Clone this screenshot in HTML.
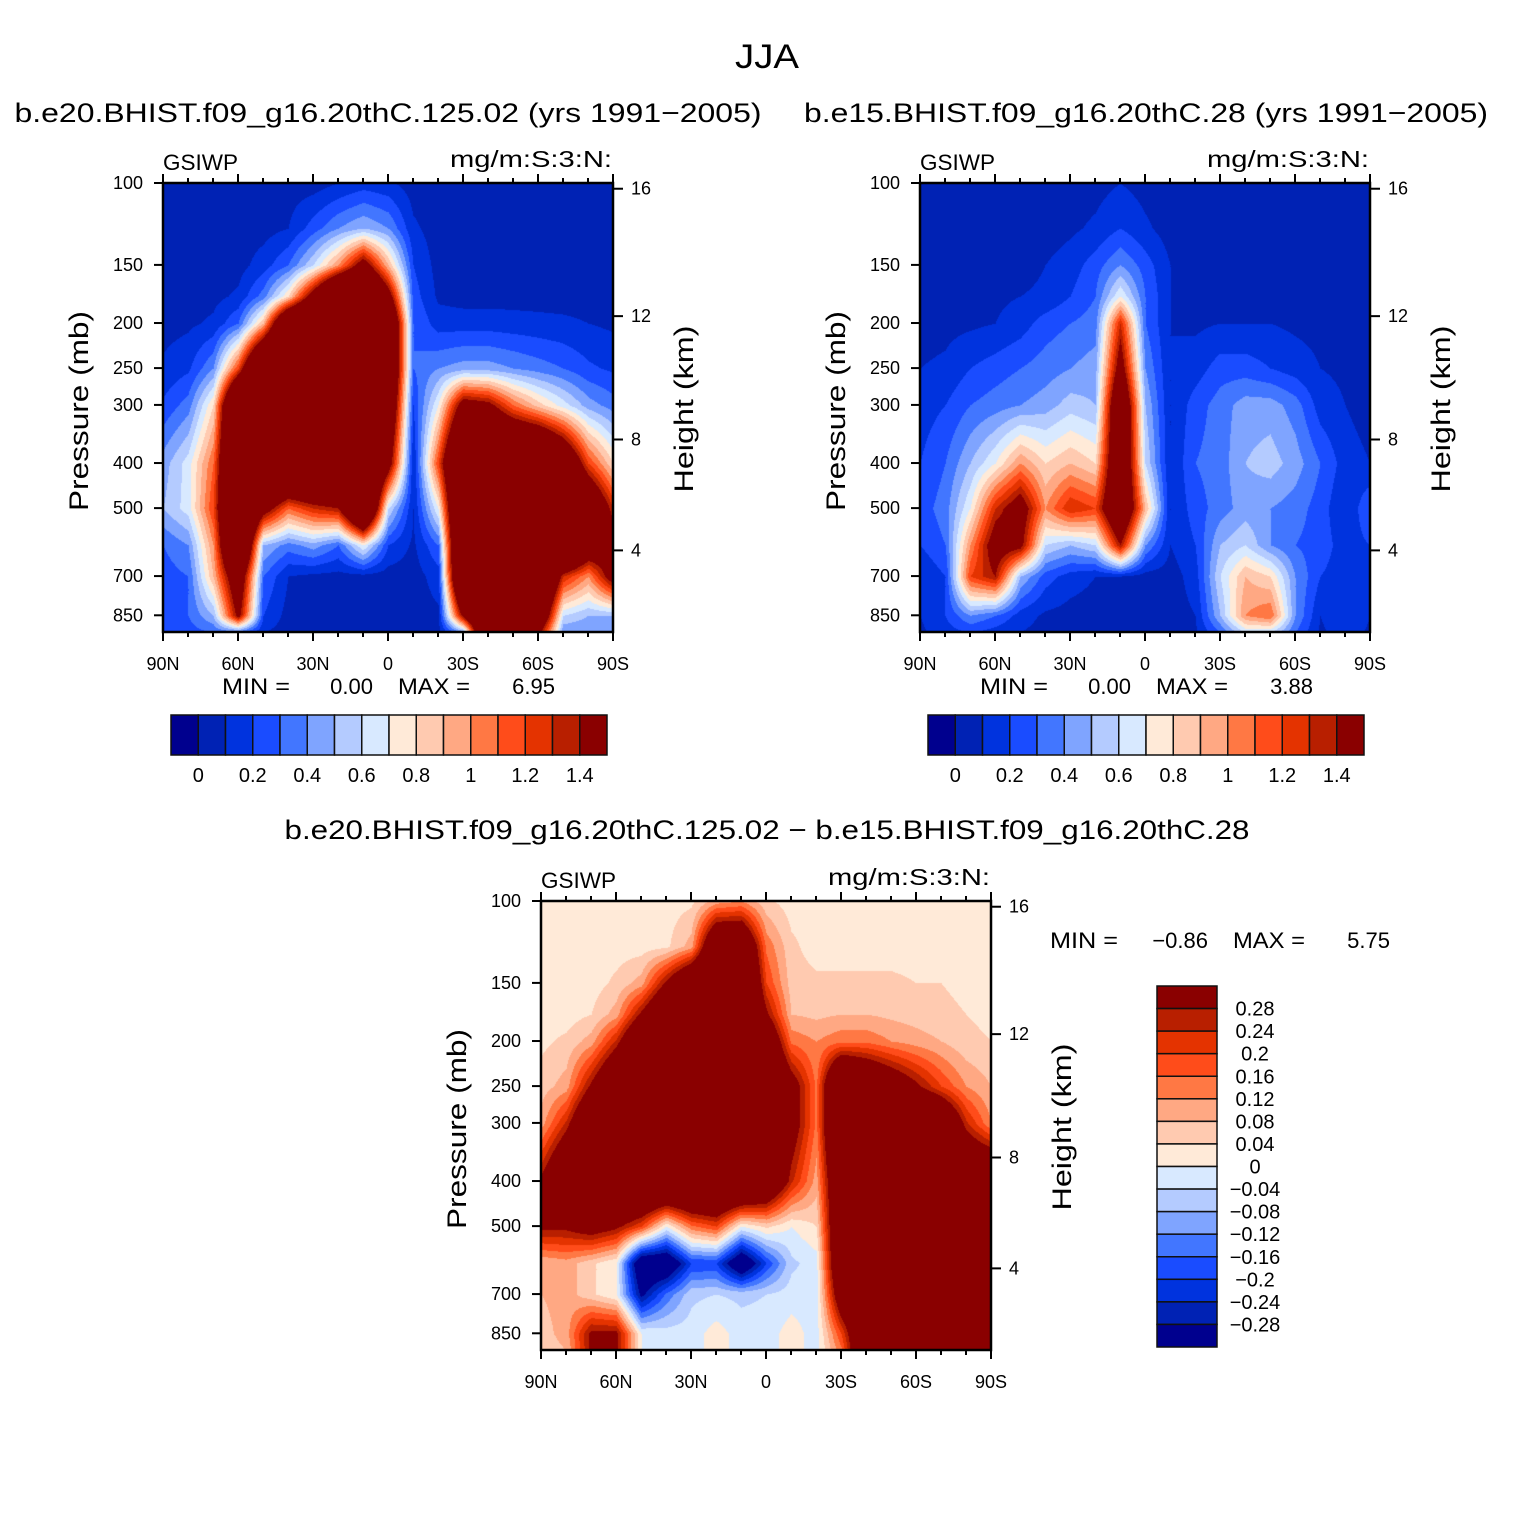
<!DOCTYPE html>
<html><head><meta charset="utf-8">
<style>
body{margin:0;background:#fff;}
#wrap{position:relative;width:1535px;height:1535px;overflow:hidden;background:#fff;font-family:"Liberation Sans",sans-serif;}
canvas{position:absolute;}
svg{position:absolute;left:0;top:0;}
</style></head>
<body>
<div id="wrap">
<canvas id="c1" width="450" height="449" style="left:163px;top:183px"></canvas>
<canvas id="c2" width="450" height="449" style="left:920px;top:183px"></canvas>
<canvas id="c3" width="450" height="449" style="left:541px;top:901px"></canvas>
<svg id="svg" width="1535" height="1535"></svg>
</div>
<script>
const LATS = [90,80,70,60,50,40,30,20,10,0,-10,-20,-30,-40,-50,-60,-70,-80,-90];
const PLEV = [100,125,150,175,200,250,300,400,500,600,700,850,925];
const FIELD1 = [
[.05,.05,.05,.05,.05,.05,.05,.1,.15,.12,.05,.05,.05,.05,.05,.05,.05,.05,.05],
[.05,.05,.05,.05,.06,.1,.25,.4,.5,.4,.12,.05,.05,.05,.05,.05,.05,.05,.05],
[.05,.05,.05,.06,.15,.3,.6,1.0,1.6,.9,.2,.06,.05,.05,.05,.05,.05,.05,.05],
[.05,.05,.07,.12,.35,.8,1.6,2.5,2.5,1.6,.25,.08,.06,.06,.06,.06,.06,.06,.05],
[.06,.08,.12,.3,.9,2.2,2.5,2.5,2.5,2.2,.3,.15,.15,.15,.14,.13,.12,.1,.08],
[.12,.18,.4,1.2,2.5,2.5,2.5,2.5,2.5,2.2,.3,.4,.45,.45,.4,.35,.3,.22,.18],
[.22,.35,.8,2.5,2.5,2.5,2.5,2.5,2.5,2.0,.2,.7,1.6,1.5,1.1,.85,.65,.45,.35],
[.45,.65,1.1,2.5,2.5,2.5,2.5,2.5,2.5,1.6,.1,1.2,2.5,2.5,2.5,2.5,2.0,1.2,.8],
[.5,.65,1.2,2.5,1.6,1.1,1.3,1.4,2.5,.6,.1,.7,2.5,2.5,2.5,2.5,2.5,2.0,1.3],
[.3,.4,1.0,2.5,.5,.35,.45,.3,.7,.2,.08,.3,2.5,2.5,2.5,2.5,2.5,1.8,1.6],
[.25,.3,.9,1.8,.3,.1,.07,.06,.06,.05,.05,.15,2.5,2.5,2.5,2.5,1.3,1.0,1.6],
[.25,.3,.5,1.5,.2,.06,.05,.05,.05,.05,.05,.08,1.5,2.5,2.5,2.0,.6,.5,.5],
[.2,.25,.3,.3,.1,.05,.05,.05,.05,.05,.05,.06,.4,2.5,2.5,1.5,.4,.4,.4]
];
const FIELD2 = [
[.05,.05,.05,.05,.05,.05,.05,.06,.1,.06,.05,.05,.05,.05,.05,.05,.05,.05,.05],
[.05,.05,.05,.05,.05,.05,.08,.12,.2,.12,.05,.05,.05,.05,.05,.05,.05,.05,.05],
[.05,.05,.05,.05,.06,.1,.15,.25,.4,.25,.1,.05,.05,.05,.05,.05,.05,.05,.05],
[.05,.05,.06,.08,.1,.12,.2,.3,.7,.3,.1,.06,.05,.05,.05,.05,.05,.05,.05],
[.06,.07,.08,.1,.15,.25,.3,.35,1.3,.3,.1,.08,.1,.1,.1,.08,.07,.06,.05],
[.1,.12,.2,.25,.3,.35,.4,.45,1.6,.4,.1,.15,.25,.25,.2,.15,.1,.08,.05],
[.15,.2,.3,.35,.4,.45,.55,.5,2.0,.5,.1,.25,.35,.45,.45,.35,.15,.1,.05],
[.2,.3,.5,.7,1.0,.8,.9,.8,2.0,.6,.1,.3,.35,.5,.55,.45,.3,.15,.1],
[.25,.35,.7,1.3,1.6,1.0,1.3,1.2,2.0,.9,.1,.25,.35,.45,.4,.35,.25,.1,.3],
[.2,.3,1.0,1.6,1.5,.6,.5,.6,1.4,.4,.1,.2,.5,.6,.4,.3,.25,.15,.2],
[.1,.2,1.2,1.4,.5,.25,.15,.1,.1,.05,.05,.15,.6,.9,.8,.4,.2,.15,.2],
[.1,.2,.4,.3,.15,.08,.06,.05,.05,.05,.05,.1,.5,1.0,1.1,.4,.1,.2,.1],
[.08,.15,.2,.15,.1,.06,.05,.05,.05,.05,.05,.08,.3,.6,.6,.3,.08,.15,.08]
];
const FIELD3 = [
[.02,.02,.02,.02,.02,.02,.03,.1,.12,.05,.02,.02,.02,.02,.02,.02,.02,.02,.02],
[.02,.02,.02,.02,.02,.03,.1,.5,.5,.15,.05,.02,.02,.02,.02,.02,.02,.02,.02],
[.02,.02,.02,.05,.1,.3,.5,.6,.6,.2,.06,.05,.05,.05,.05,.04,.04,.03,.03],
[.02,.02,.04,.1,.3,.5,.6,.6,.6,.3,.08,.07,.08,.08,.07,.06,.05,.04,.03],
[.03,.05,.1,.25,.5,.6,.6,.6,.6,.45,.15,.12,.15,.15,.12,.1,.08,.05,.04],
[.06,.1,.3,.5,.6,.6,.6,.6,.6,.55,.35,.15,.6,.5,.4,.3,.2,.12,.08],
[.1,.25,.5,.6,.6,.6,.6,.6,.6,.6,.35,.15,.6,.6,.6,.6,.5,.25,.12],
[.3,.5,.6,.6,.6,.6,.6,.6,.6,.5,.25,.1,.5,.6,.6,.6,.6,.5,.5],
[.3,.3,.35,.3,.2,0,.15,.2,0,.05,0,.04,.5,.6,.6,.6,.6,.6,.5],
[.08,.1,.05,0,-.4,-.4,-.2,-.2,-.4,-.2,-.05,-.02,.5,.6,.6,.6,.6,.6,.5],
[.08,.1,.05,0,-.3,-.15,-.05,-.04,-.05,-.04,-.02,-.02,.4,.5,.6,.6,.6,.6,.5],
[.06,.1,.3,.3,0,-.02,-.02,.02,-.02,-.02,.02,-.02,.2,.5,.6,.6,.6,.6,.5],
[.05,.08,.3,.3,0,-.02,-.02,.02,-.02,-.02,.02,-.02,.15,.5,.6,.6,.6,.6,.5]
];
const LEVELS1 = [0,0.1,0.2,0.3,0.4,0.5,0.6,0.7,0.8,0.9,1.0,1.1,1.2,1.3,1.4];
const LEVELS3 = [-0.28,-0.24,-0.2,-0.16,-0.12,-0.08,-0.04,0,0.04,0.08,0.12,0.16,0.2,0.24,0.28];
const CBAR1_LABELS = ["0","0.2","0.4","0.6","0.8","1","1.2","1.4"];
const CBAR3_LABELS = ["0.28","0.24","0.2","0.16","0.12","0.08","0.04","0","\u22120.04","\u22120.08","\u22120.12","\u22120.16","\u22120.2","\u22120.24","\u22120.28"];
const COLORS = ["#00008e","#0022b4","#0033de","#1a4cff","#4276ff","#7fa4ff","#b4cbff","#d8e9ff","#ffead8","#ffcab0","#ffa883","#ff7844","#ff4c1a","#e43300","#b81f00","#8a0000"];
const PTICKS = [100,150,200,250,300,400,500,700,850];
const HTICKS = [4,8,12,16];
const XTICKS = [90,60,30,0,-30,-60,-90];
const XLABELS = ["90N","60N","30N","0","30S","60S","90S"];

const W=450,H=449,PPL=202;
function xOf(lat){return (90-lat)/180*W;}
function yOf(p){return PPL*Math.log(p/100);}
function hToP(km){const z=km*1000;if(z<11000)return 1013.25*Math.pow(1-2.25577e-5*z,5.2559);return 226.32*Math.exp(-(z-11000)/6341.6);}
function hexRgb(h){return [parseInt(h.slice(1,3),16),parseInt(h.slice(3,5),16),parseInt(h.slice(5,7),16)];}
const RGB=COLORS.map(hexRgb);
const LNP=PLEV.map(p=>Math.log(p));

function drawField(id,field,levels){
  const cv=document.getElementById(id),ctx=cv.getContext('2d');
  const img=ctx.createImageData(W,H);
  for(let py=0;py<H;py++){
    const lp=Math.log(100)+py/PPL;
    let r=0;while(r<LNP.length-2&&lp>LNP[r+1])r++;
    let fr=(lp-LNP[r])/(LNP[r+1]-LNP[r]);fr=Math.max(0,Math.min(1,fr));
    for(let px=0;px<W;px++){
      const lat=90-px/W*180;
      let fi=(90-lat)/10;let c=Math.min(LATS.length-2,Math.floor(fi));let fc=fi-c;
      const v=(field[r][c]*(1-fc)+field[r][c+1]*fc)*(1-fr)+(field[r+1][c]*(1-fc)+field[r+1][c+1]*fc)*fr;
      let k=0;while(k<levels.length&&v>=levels[k])k++;
      const col=RGB[k],o=(py*W+px)*4;
      img.data[o]=col[0];img.data[o+1]=col[1];img.data[o+2]=col[2];img.data[o+3]=255;
    }
  }
  ctx.putImageData(img,0,0);
}
drawField('c1',FIELD1,LEVELS1);
drawField('c2',FIELD2,LEVELS1);
drawField('c3',FIELD3,LEVELS3);

const NS="http://www.w3.org/2000/svg",svg=document.getElementById('svg');
function el(tag,attrs,parent){const e=document.createElementNS(NS,tag);for(const k in attrs)e.setAttribute(k,attrs[k]);(parent||svg).appendChild(e);return e;}
function txt(s,x,y,size,anchor,parent,name,rot,len){
  const t=el('text',{x:x,y:y,'font-size':size,'text-anchor':anchor||'middle','font-family':'Liberation Sans, sans-serif',fill:'#000'},parent);
  if(rot)t.setAttribute('transform','rotate(-90 '+x+' '+y+')');
  if(len){t.setAttribute('textLength',len);t.setAttribute('lengthAdjust','spacingAndGlyphs');}
  t.textContent=s;
  
  
  return t;
}
txt("JJA",767,68,34,'middle',null,'figure-title',false,64);

function panel(ox,oy,title,titleLen,name){
  const g=el('g',{transform:'translate('+ox+','+oy+')'});
  
  
  if(title)txt(title,(ox===163?388:1146)-ox,122-oy,27,'middle',g,name+'-title',false,titleLen);
  txt("GSIWP",0,-13,22,'start',g,name+'-variable-label',false,75);
  txt("mg/m:S:3:N:",W-1,-16,23,'end',g,name+'-units-label',false,162);
  el('rect',{x:0,y:0,width:W,height:H,fill:'none',stroke:'#000','stroke-width':2.5},g);
  for(let lat=90;lat>=-90;lat-=10){
    const x=xOf(lat),maj=(lat%30===0);
    el('line',{x1:x,x2:x,y1:H,y2:H+(maj?9:5),stroke:'#000','stroke-width':2},g);
    el('line',{x1:x,x2:x,y1:0,y2:-(maj?9:5),stroke:'#000','stroke-width':2},g);
  }
  XTICKS.forEach((lat,i)=>txt(XLABELS[i],xOf(lat),H+38,18,'middle',g,name+'-x-tick-label'));
  PTICKS.forEach(p=>{const y=yOf(p);el('line',{x1:0,x2:-9,y1:y,y2:y,stroke:'#000','stroke-width':2},g);txt(String(p),-20,y+6,18,'end',g,name+'-y-tick-label');});
  HTICKS.forEach(h=>{const y=yOf(hToP(h));el('line',{x1:W,x2:W+10,y1:y,y2:y,stroke:'#000','stroke-width':2},g);txt(String(h),W+18,y+6,18,'start',g,name+'-height-tick-label');});
  txt("Pressure  (mb)",-75,228,27,'middle',g,name+'-y-axis-title',true,200);
  txt("Height  (km)",W+80,226,27,'middle',g,name+'-right-axis-title',true,167);
  return g;
}
panel(163,183,"b.e20.BHIST.f09_g16.20thC.125.02 (yrs 1991\u22122005)",747,'panel1');
panel(920,183,"b.e15.BHIST.f09_g16.20thC.28 (yrs 1991\u22122005)",684,'panel2');
panel(541,901,null,0,'panel3');
txt("b.e20.BHIST.f09_g16.20thC.125.02 \u2212 b.e15.BHIST.f09_g16.20thC.28",767,839,27,'middle',null,'panel3-title',false,965);

function minmax(x,y,a,b,name,o1,o2,o3){
  txt("MIN  =",x,y,22,'start',null,name+'-min-label',false,68);
  txt(a,x+o1,y,22,'end',null,name+'-min-value');
  txt("MAX  =",x+o2,y,22,'start',null,name+'-max-label',false,72);
  txt(b,x+o3,y,22,'end',null,name+'-max-value');
}
minmax(222,694,"0.00","6.95",'panel1',151,176,333);
minmax(980,694,"0.00","3.88",'panel2',151,176,333);
minmax(1050,948,"\u22120.86","5.75",'panel3',158,183,340);

function hbar(x0,y0,name){
  const w=436/16;
  for(let i=0;i<16;i++){
    const r=el('rect',{x:x0+i*w,y:y0,width:w,height:40,fill:COLORS[i],stroke:'#111','stroke-width':1.5});
    
    
  }
  CBAR1_LABELS.forEach((s,j)=>txt(s,x0+(1+2*j)*w,y0+67,20,'middle',null,name+'-label'));
}
hbar(171,715,'panel1-colorbar');
hbar(928,715,'panel2-colorbar');
(function(){
  const x0=1157,y0=986,h=361/16;
  for(let i=0;i<16;i++){
    const r=el('rect',{x:x0,y:y0+i*h,width:60,height:h,fill:COLORS[15-i],stroke:'#111','stroke-width':1.5});
    
    
  }
  CBAR3_LABELS.forEach((s,j)=>txt(s,1255,y0+(j+1)*h+7,20,'middle',null,'panel3-colorbar-label'));
})();
</script>
</body></html>
